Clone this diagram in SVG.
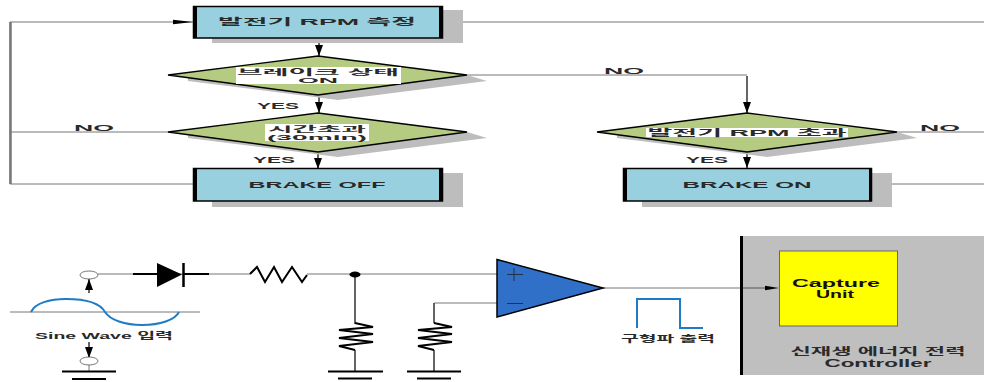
<svg xmlns="http://www.w3.org/2000/svg" width="984" height="382" viewBox="0 0 984 382">
<defs>
<marker id="arr" markerUnits="userSpaceOnUse" markerWidth="12" markerHeight="8" refX="11" refY="4" orient="auto"><path d="M0,0L11,4L0,8Z" fill="#000"/></marker>
</defs>
<style>
text{font-family:"Liberation Sans","Noto Sans CJK KR",sans-serif;font-size:9px;font-weight:700;fill:#2a2a2a;text-anchor:middle}
.sh{fill:#bdbdbd}
.box{fill:#99d0df;stroke:#000;stroke-width:1.5}
.side{fill:#000}
.dia{fill:#b5cb82;stroke:#000;stroke-width:1.4}
.w{fill:#fff}
.ln{fill:none;stroke:#777;stroke-width:1}
.dk{fill:none;stroke:#333;stroke-width:1.5}
.bk{fill:none;stroke:#000;stroke-width:2}
.bl{fill:none;stroke:#1f7cc4;stroke-width:2}
.port{fill:#fff;stroke:#555;stroke-width:.8}
.wedge{fill:#000}
.tight{font-size:8px}
</style>
<rect width="984" height="382" fill="#fff"/>
<g id="connectors">
<path class="ln" d="M193,22H10V184H193"/>
<path d="M10.500,22V184" stroke="#777" stroke-width="2.500" fill="none"/>
<path class="ln" d="M168,132H10"/>
<path class="ln" d="M984,22H443"/>
<path class="ln" d="M467,75H747"/>
<path class="ln" d="M897,132H984"/>
<path class="ln" d="M872,184H984"/>
<path class="dk" d="M319,38V56" marker-end="url(#arr)"/>
<path class="dk" d="M319,95V113" marker-end="url(#arr)"/>
<path class="dk" d="M318,152V169" marker-end="url(#arr)"/>
<path class="dk" d="M747,76V113" marker-end="url(#arr)"/>
<path class="dk" d="M747,152V168" marker-end="url(#arr)"/>
<path class="wedge" d="M173,19.800L193,22L173,24.200Z"/>
<path class="wedge" d="M463,19.800L443,22L463,24.200Z"/>
<path class="ln" d="M98,274H250M307,274H497"/>
<path class="bk" d="M133,274H157M183,274H209"/>
<path class="dk" d="M355,274V324M355,350V371"/>
<path class="ln" d="M497,303H434"/>
<path class="dk" d="M434,303V323M434,350V371"/>
<path class="ln" d="M603,288H779"/>
<path class="dk" d="M89,293V279" marker-end="url(#arr)"/>
<path class="dk" d="M89,342V358" marker-end="url(#arr)"/>
<path class="ln" d="M89,365V371"/>
</g>
<g id="node-rpm-measure">
<rect class="sh" x="212" y="10" width="251" height="33"/>
<rect class="box" x="193.500" y="6.500" width="249" height="31.500"/>
<rect class="side" x="193" y="6" width="4" height="32"/><rect class="side" x="439" y="6" width="4" height="32"/>
<text x="317" y="24.500" textLength="198" lengthAdjust="spacingAndGlyphs">발전기 RPM 측정</text>
</g>
<g id="node-brake-state">
<path class="sh" d="M188,81L338,100L487,81L467,75H188Z"/>
<path class="dia" d="M168,75L318,56L467,75L318,95Z"/>
<rect class="w" x="236" y="67" width="165" height="17"/>
<text class="tight" x="318" y="74.500" textLength="162" lengthAdjust="spacingAndGlyphs">브레이크 상태</text>
<text class="tight" x="318" y="83" textLength="40" lengthAdjust="spacingAndGlyphs">ON</text>
</g>
<g id="node-time-over">
<path class="sh" d="M188,138L338,157L487,138L467,132H188Z"/>
<path class="dia" d="M168,132L318,113L467,132L318,152Z"/>
<rect class="w" x="265" y="124" width="104" height="17"/>
<text class="tight" x="317" y="131.500" textLength="98" lengthAdjust="spacingAndGlyphs">시간초과</text>
<text class="tight" x="317" y="140" textLength="100" lengthAdjust="spacingAndGlyphs">(30min)</text>
</g>
<g id="node-brake-off">
<rect class="sh" x="212" y="173" width="251" height="34"/>
<rect class="box" x="193.500" y="168.500" width="249" height="32.500"/>
<rect class="side" x="193" y="168" width="4" height="33"/><rect class="side" x="439" y="168" width="4" height="33"/>
<text x="317" y="187.500" textLength="137" lengthAdjust="spacingAndGlyphs">BRAKE OFF</text>
</g>
<g id="node-rpm-over">
<path class="sh" d="M617,138L767,157L917,138L897,132H617Z"/>
<path class="dia" d="M597,132L747,113L897,132L747,152Z"/>
<rect class="w" x="646" y="128" width="202" height="9"/>
<text x="747" y="136" textLength="199" lengthAdjust="spacingAndGlyphs">발전기 RPM 초과</text>
</g>
<g id="node-brake-on">
<rect class="sh" x="642" y="173" width="250" height="34"/>
<rect class="box" x="623.500" y="168.500" width="248" height="32.500"/>
<rect class="side" x="623" y="168" width="4" height="33"/><rect class="side" x="869" y="168" width="3" height="33"/>
<text x="747" y="187.500" textLength="129" lengthAdjust="spacingAndGlyphs">BRAKE ON</text>
</g>
<g id="labels">
<text x="278" y="108.500" textLength="42" lengthAdjust="spacingAndGlyphs">YES</text>
<text x="274" y="163" textLength="42" lengthAdjust="spacingAndGlyphs">YES</text>
<text x="707" y="163" textLength="42" lengthAdjust="spacingAndGlyphs">YES</text>
<text x="94" y="130.500" textLength="40" lengthAdjust="spacingAndGlyphs">NO</text>
<text x="624" y="73.500" textLength="40" lengthAdjust="spacingAndGlyphs">NO</text>
<text x="940" y="130.500" textLength="40" lengthAdjust="spacingAndGlyphs">NO</text>
</g>
<g id="source">
<path class="ln" d="M10,312H200"/>
<path class="bl" d="M31,312C35,303 50,299 66,299C85,299 100,303 105,312C110,320 125,325 142,325C160,325 175,320 179,312"/>
<ellipse class="port" cx="89" cy="275" rx="9" ry="4"/>
<ellipse class="port" cx="89" cy="361" rx="9" ry="4"/>
<text x="104" y="338.500" textLength="138" lengthAdjust="spacingAndGlyphs">Sine Wave 입력</text>
<path class="bk" d="M62,371.500H116M72,379H106"/>
</g>
<g id="diode">
<path d="M157,263L182,274.500L157,287Z" fill="#000"/>
<path d="M183.500,263V287" stroke="#000" stroke-width="2.500"/>
</g>
<g id="resistor-series">
<path class="bk" d="M250,274L257,267L265,282L274,267L282,282L292,267L302,282L307,275"/>
</g>
<g id="junction"><ellipse cx="355" cy="274.500" rx="5.500" ry="3" fill="#000"/></g>
<g id="resistor-1">
<path class="bk" d="M355,323L373,327L339,330L373,334L339,338L373,342L339,346L355,350"/>
<path class="bk" d="M328,371.500H383M338,378.500H372"/>
</g>
<g id="resistor-2">
<path class="bk" d="M434,323L452,327L418,330L452,334L418,338L452,342L418,346L434,350"/>
<path class="bk" d="M407,371.500H461M417,378.500H451"/>
</g>
<g id="opamp">
<path d="M497,259.500L603,288L497,317Z" fill="#3070c8" stroke="#000" stroke-width="1.500"/>
<path d="M507,274.500H523M514,268V281M507,303.500H523" fill="none" stroke="#234" stroke-width="1"/>
</g>
<g id="square-wave">
<path class="bl" d="M637,328V299H680V328H703"/>
<text x="668" y="342" textLength="94" lengthAdjust="spacingAndGlyphs">구형파 출력</text>
</g>
<g id="controller">
<rect x="742" y="236" width="242" height="139" fill="#bfbfbf"/>
<rect x="740" y="236" width="3" height="139" fill="#000"/>
<path d="M743,288H765" stroke="#555" stroke-width="1"/>
<path class="wedge" d="M765,285.800L779,288L765,290.200Z"/>
<text x="878" y="355" textLength="175" lengthAdjust="spacingAndGlyphs" style="font-size:10px">신재생 에너지 전력</text>
<text x="878" y="367" textLength="107" lengthAdjust="spacingAndGlyphs" style="font-size:11px">Controller</text>
</g>
<g id="capture-unit">
<rect x="779.500" y="251" width="118" height="75" fill="#ffff00" stroke="#666" stroke-width="1"/>
<text x="836" y="287" textLength="88" lengthAdjust="spacingAndGlyphs" style="fill:#111;font-size:11px">Capture</text>
<text x="835" y="298" textLength="38" lengthAdjust="spacingAndGlyphs" style="fill:#111;font-size:11px">Unit</text>
</g>
</svg>
